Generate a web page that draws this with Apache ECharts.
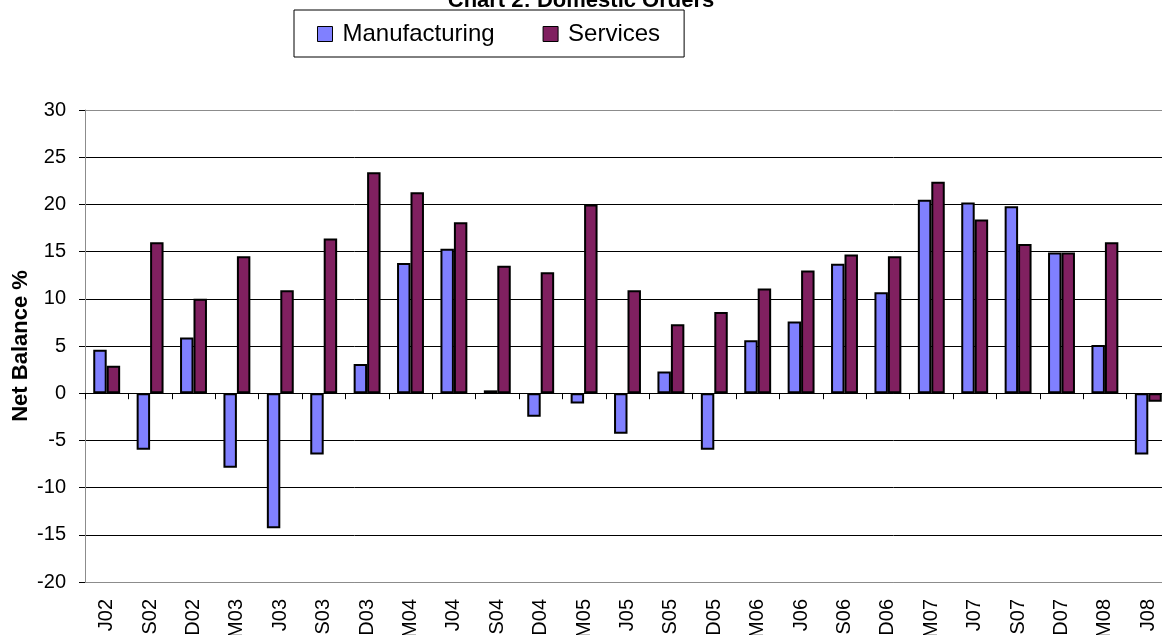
<!DOCTYPE html>
<html>
<head>
<meta charset="utf-8">
<script src="https://cdn.jsdelivr.net/npm/echarts@6/dist/echarts.min.js"></script>
<style>html,body{margin:0;padding:0;background:#fff}#c{width:1162px;height:635px}</style>
</head>
<body>
<div id="c"></div>
<script>
const categories = ['J02','S02','D02','M03','J03','S03','D03','M04','J04','S04','D04','M05','J05','S05','D05','M06','J06','S06','D06','M07','J07','S07','D07','M08','J08'];
const manufacturing = [4.6,-6.0,5.9,-7.9,-14.3,-6.5,3.1,13.8,15.3,0.3,-2.5,-1.1,-4.3,2.3,-6.0,5.6,7.6,13.7,10.7,20.5,20.2,19.8,14.9,5.1,-6.5];
const services = [2.9,16.0,10.0,14.5,10.9,16.4,23.4,21.3,18.1,13.5,12.8,20.0,10.9,7.3,8.6,11.1,13.0,14.7,14.5,22.4,18.4,15.8,14.9,16.0,-0.9];
const yTicks = {min: -20, max: 30, interval: 5};

const font = '"Liberation Sans", Arial, sans-serif';
const splitColors = [];
for (let v = yTicks.min; v <= yTicks.max; v += yTicks.interval) {
  splitColors.push(v === yTicks.min || v === yTicks.max ? '#8c8c8c' : '#000');
}
const chart = echarts.init(document.getElementById('c'), null, {renderer: 'canvas'});
chart.setOption({
  animation: false,
  backgroundColor: '#fff',
  title: {
    text: 'Chart 2: Domestic Orders',
    left: 'center',
    top: -15,
    textStyle: {fontFamily: font, fontSize: 22, fontWeight: 'bold', color: '#000'}
  },
  legend: {
    left: 294, top: 10,
    padding: [12, 24, 11, 23],
    borderColor: '#000', borderWidth: 1,
    backgroundColor: '#fff',
    itemWidth: 15, itemHeight: 15, itemGap: 48,
    icon: 'rect',
    itemStyle: {borderColor: '#000', borderWidth: 1},
    textStyle: {fontFamily: font, fontSize: 24, color: '#000', padding: [0, 0, 0, 5]},
    data: ['Manufacturing', 'Services']
  },
  grid: {left: 85, right: -8, top: 110, bottom: 53, containLabel: false, outerBoundsMode: 'none'},
  xAxis: [{
    type: 'category', data: categories, position: 'bottom',
    axisLine: {onZero: false, lineStyle: {color: '#8c8c8c', width: 1}},
    axisTick: {show: false},
    axisLabel: {rotate: 90, interval: 0, margin: 17, fontFamily: font, fontSize: 20, color: '#000'}
  }, {
    type: 'category', data: categories, position: 'bottom',
    axisLine: {onZero: true, lineStyle: {color: '#000', width: 1}},
    axisTick: {show: true, inside: false, length: 6, lineStyle: {color: '#000'}, interval: 0},
    axisLabel: {show: false}
  }],
  yAxis: {
    type: 'value', min: yTicks.min, max: yTicks.max, interval: yTicks.interval,
    name: 'Net Balance %', nameLocation: 'middle', nameGap: 53, nameRotate: 90,
    nameMoveOverlap: false,
    nameTextStyle: {fontFamily: font, fontSize: 22, fontWeight: 'bold', color: '#000'},
    axisLine: {show: true, lineStyle: {color: '#8c8c8c', width: 1}},
    axisTick: {show: true, length: 6, lineStyle: {color: '#000'}},
    axisLabel: {margin: 19, fontFamily: font, fontSize: 20, color: '#000'},
    splitLine: {show: true, lineStyle: {color: splitColors, width: 1}}
  },
  series: [{
    name: 'Manufacturing', type: 'bar', data: manufacturing, xAxisIndex: 0,
    barGap: '0%', barCategoryGap: '38%',
    itemStyle: {color: '#8080ff', borderColor: '#000', borderWidth: 2}
  }, {
    name: 'Services', type: 'bar', data: services, xAxisIndex: 0,
    barGap: '0%', barCategoryGap: '38%',
    itemStyle: {color: '#802060', borderColor: '#000', borderWidth: 2}
  }]
});
</script>
</body>
</html>
